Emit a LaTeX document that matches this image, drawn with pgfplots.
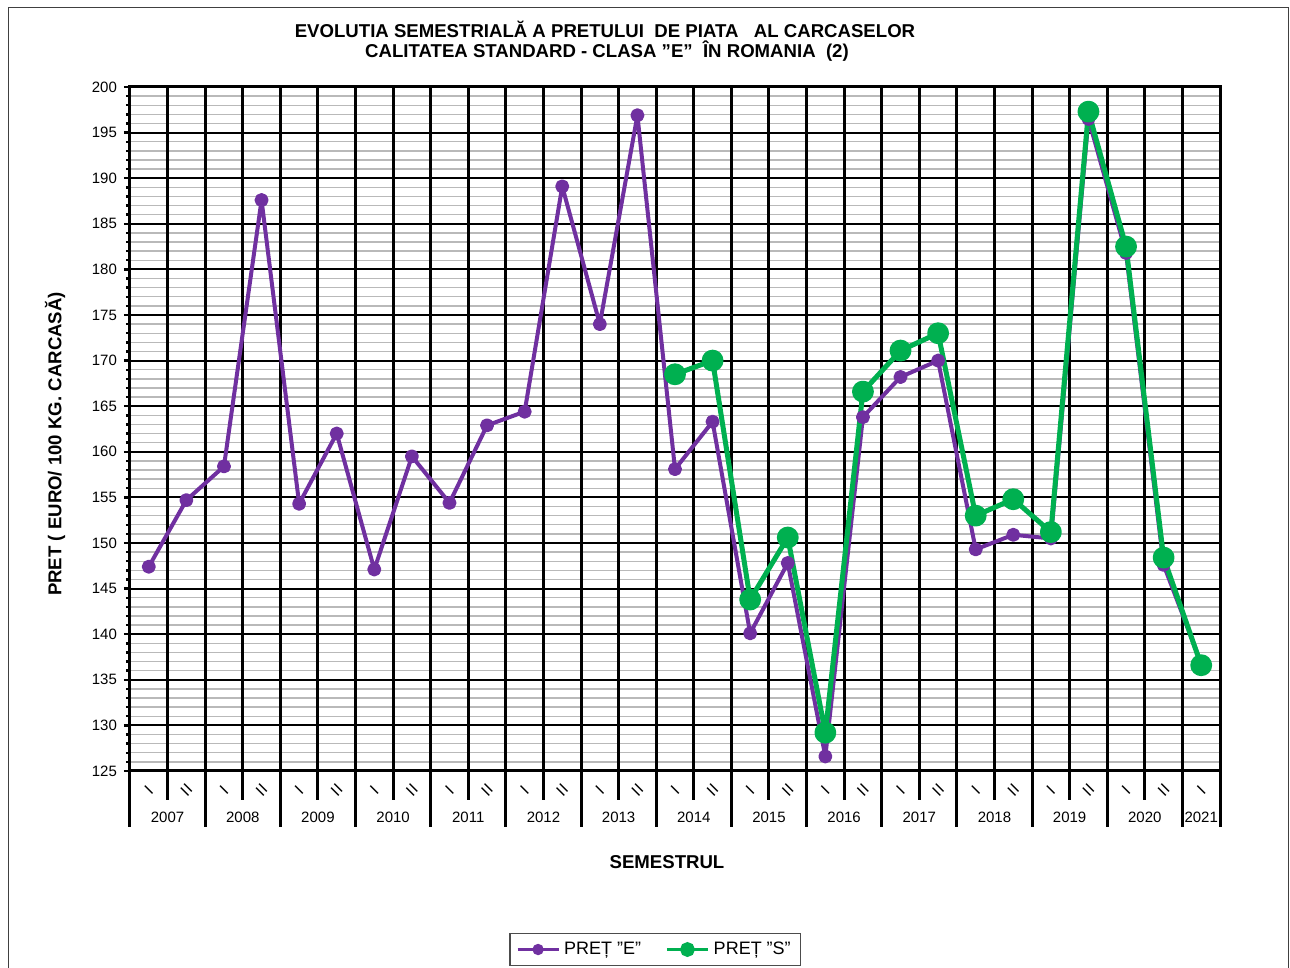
\documentclass[border=0pt]{standalone}
\usepackage{fontspec}
\setmainfont{Liberation Sans}
\usepackage{pgfplots}
\pgfplotsset{compat=1.18}
\definecolor{purp}{RGB}{112,48,160}
\definecolor{grn}{RGB}{0,176,80}
\definecolor{minorgray}{RGB}{185,185,185}
\begin{document}
\begin{tikzpicture}
\useasboundingbox (0pt,0pt) rectangle (645pt,484pt);
\draw[black!75, line width=0.5pt] (4pt,-2pt) -- (4pt,480pt) -- (644pt,480pt) -- (644pt,-2pt);
\begin{axis}[
 at={(65pt,98.5pt)}, anchor=south west,
 scale only axis, width=545pt, height=342pt,
 xmin=-0.5, xmax=28.5, ymin=125, ymax=200,
 xtick=\empty,
 ytick={125,130,...,200},
 ytick pos=left,
 minor y tick num=4,
 ymajorgrids, yminorgrids,
 major grid style={black, line width=1pt},
 minor grid style={minorgray, line width=0.7pt},
 axis line style={black, line width=1.5pt},
 tick align=outside,
 major tick length=3pt, minor tick length=2pt,
 tick style={black, line width=1.2pt},
 yticklabel style={font=\fontsize{7.5}{9}\selectfont},
 /pgf/number format/assume math mode=true,
 clip=false,
 legend image code/.code={\draw[mark repeat=2,mark phase=2,#1] plot coordinates {(0cm,0cm) (0.36cm,0cm) (0.72cm,0cm)};},
 legend style={at={(0.482,-0.261)}, anchor=center, draw=black!70, line width=0.6pt,
   font=\fontsize{9}{11}\selectfont, legend columns=2,
   /tikz/every even column/.append style={column sep=10pt}},
]
\pgfplotsinvokeforeach{-0.5,1.5,...,27.5,28.5}{
  \draw[black, line width=1.5pt] (axis cs:#1,200) -- ([yshift=-28pt]axis cs:#1,125);
}
\pgfplotsinvokeforeach{0.5,2.5,...,26.5}{
  \draw[black, line width=1.5pt] (axis cs:#1,200) -- ([yshift=-14.5pt]axis cs:#1,125);
}
\pgfplotsinvokeforeach{0,2,...,28}{
  \node[rotate=45, font=\fontsize{8}{9}\selectfont, inner sep=0pt] at ([yshift=-9.5pt]axis cs:#1,125) {I};
}
\pgfplotsinvokeforeach{1,3,...,27}{
  \node[rotate=45, font=\fontsize{8}{9}\selectfont, inner sep=0pt] at ([yshift=-9.5pt]axis cs:#1,125) {II};
}
\pgfplotsinvokeforeach{0.5,2.5,...,26.5}{
  \node[font=\fontsize{7.5}{9}\selectfont, inner sep=0pt] at ([yshift=-23pt]axis cs:#1,125) {\pgfmathtruncatemacro\yr{2007+(#1-0.5)/2}\yr};
}
\node[font=\fontsize{7.5}{9}\selectfont, inner sep=0pt] at ([yshift=-23pt]axis cs:28,125) {2021};

\addplot[purp, line width=2pt, line join=round, mark=*, mark size=2.5pt, mark options={solid, fill=purp}, forget plot] coordinates {
(0,147.4) (1,154.7) (2,158.4) (3,187.6) (4,154.3) (5,162.0) (6,147.1) (7,159.5)
(8,154.4) (9,162.9) (10,164.4) (11,189.1) (12,174.0) (13,196.9) (14,158.1) (15,163.3)
(16,140.1) (17,147.8) (18,126.6) (19,163.8) (20,168.2) (21,170.0) (22,149.3) (23,150.9)
(24,150.5) (25,196.5) (26,181.8) (27,147.6) (28,136.8)
};
\addplot[grn, line width=2.5pt, line join=round, mark=*, mark size=4.2pt, mark options={solid, fill=grn}, forget plot] coordinates {
(14,168.5) (15,170.0) (16,143.8) (17,150.6) (18,129.2) (19,166.6) (20,171.1) (21,173.0)
(22,153.0) (23,154.8) (24,151.2) (25,197.3) (26,182.5) (27,148.4) (28,136.6)
};
\addlegendimage{purp, line width=1.6pt, mark=*, mark size=2pt, mark options={solid, fill=purp}}
\addlegendentry{PREȚ ”E”}
\addlegendimage{grn, line width=1.8pt, mark=*, mark size=2.8pt, mark options={solid, fill=grn}}
\addlegendentry{PREȚ ”S”}
\end{axis}
\node[font=\bfseries\fontsize{9.3}{11}\selectfont] at (302.5pt,469.5pt) {EVOLUTIA SEMESTRIALĂ A PRETULUI\ \ DE PIATA\ \ \ AL CARCASELOR};
\node[font=\bfseries\fontsize{9.3}{11}\selectfont] at (303.5pt,458.5pt) {CALITATEA STANDARD - CLASA "E"\ \ ÎN ROMANIA\ \ (2)};
\node[rotate=90, font=\bfseries\fontsize{9.3}{11}\selectfont] at (27.5pt,262pt) {PRET ( EURO/ 100 KG. CARCASĂ)};
\node[font=\bfseries\fontsize{9.3}{11}\selectfont] at (333.5pt,53pt) {SEMESTRUL};
\end{tikzpicture}
\end{document}
